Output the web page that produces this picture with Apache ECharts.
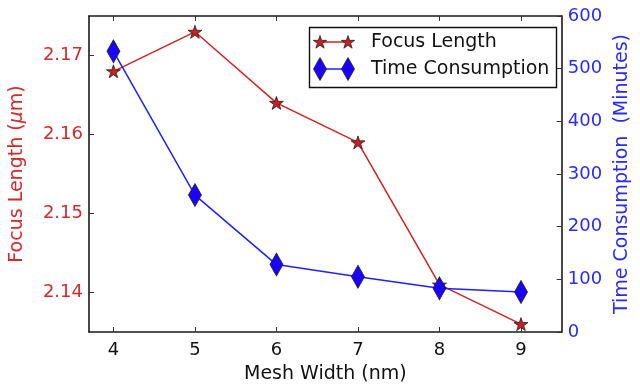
<!DOCTYPE html>
<html><head><meta charset="utf-8">
<script src="https://cdn.jsdelivr.net/npm/echarts@6/dist/echarts.min.js"></script>
<style>html,body{margin:0;padding:0;background:#fff}#c{width:640px;height:389px}</style>
</head><body><div id="c"></div>
<script>
const meshWidth = [4, 5, 6, 7, 8, 9];
const focusLength = [2.168, 2.173, 2.164, 2.159, 2.141, 2.136];
const timeConsumption = [533, 260, 128, 105, 83, 76];
const xTicks = [4, 5, 6, 7, 8, 9];
const leftTicks = [2.14, 2.15, 2.16, 2.17];
const rightTicks = [0, 100, 200, 300, 400, 500, 600];
const seriesNames = ['Focus Length', 'Time Consumption'];

const FONT = 'DejaVu Sans';
const RED = '#d42222', RED_FILL = '#cc1e1e', RED_TEXT = '#d42a2a';
const BLUE = '#2020ff', BLUE_FILL = '#1a00ff', BLUE_TEXT = '#2a2aff';
const STAR = 'M100,0 L77.55,69.1 L4.89,69.1 L63.67,111.8 L41.22,180.9 L100,138.2 L158.78,180.9 L136.33,111.8 L195.11,69.1 L122.45,69.1 Z';
const spine = {show: true, lineStyle: {color: '#1a1a1a', width: 1.6}};
const tick = {show: true, inside: true, length: 5, lineStyle: {color: '#333', width: 1}};

const chart = echarts.init(document.getElementById('c'), null, {renderer: 'canvas'});

function legendStar(cx, cy) {
  const pts = [];
  for (let k = 0; k < 10; k++) {
    const a = Math.PI / 2 + k * Math.PI / 5;
    const r = (k % 2 === 0) ? 7 : 7 * 0.382;
    pts.push([cx + r * Math.cos(a), cy - r * Math.sin(a) + 0.5]);
  }
  return {type: 'polygon', shape: {points: pts},
    style: {fill: RED_FILL, stroke: '#222', lineWidth: 0.8}, z: 101};
}
function legendDiamond(cx, cy) {
  return {type: 'polygon', shape: {points: [[cx, cy - 11.5], [cx + 6.5, cy], [cx, cy + 11.5], [cx - 6.5, cy]]},
    style: {fill: BLUE_FILL, stroke: '#222', lineWidth: 0.8}, z: 101};
}

chart.setOption({
  animation: false,
  backgroundColor: '#fff',
  grid: {left: 87, right: 77, top: 16, bottom: 55, containLabel: false},
  xAxis: [{
    type: 'value', min: 3.7, max: 9.5, position: 'bottom',
    name: 'Mesh Width (nm)', nameLocation: 'middle', nameGap: 33,
    nameTextStyle: {fontFamily: FONT, fontSize: 19, color: '#111'},
    axisLine: spine, axisTick: Object.assign({}, tick, {customValues: xTicks}),
    axisLabel: {customValues: xTicks, fontFamily: FONT, fontSize: 18, color: '#111', margin: 9},
    splitLine: {show: false}
  }, {
    type: 'value', min: 3.7, max: 9.5, position: 'top',
    axisLine: spine, axisTick: Object.assign({}, tick, {customValues: xTicks}),
    axisLabel: {show: false, customValues: xTicks}, splitLine: {show: false}
  }],
  yAxis: [{
    type: 'value', min: 2.135, max: 2.175, position: 'left',
    name: 'Focus Length ({i|μ}m)', nameLocation: 'middle', nameGap: 62, nameRotate: 90,
    nameTextStyle: {fontFamily: FONT, fontSize: 19, color: RED_TEXT,
      rich: {i: {fontFamily: FONT, fontSize: 19, fontStyle: 'italic', color: RED_TEXT}}},
    axisLine: spine, axisTick: Object.assign({}, tick, {customValues: leftTicks}),
    axisLabel: {customValues: leftTicks, fontFamily: FONT, fontSize: 18, color: RED_TEXT, margin: 6,
      formatter: v => v.toFixed(2)},
    splitLine: {show: false}
  }, {
    type: 'value', min: 0, max: 600, position: 'right',
    name: 'Time Consumption  (Minutes)', nameLocation: 'middle', nameGap: 50, nameRotate: 90,
    nameTextStyle: {fontFamily: FONT, fontSize: 19, color: BLUE_TEXT},
    axisLine: spine, axisTick: Object.assign({}, tick, {customValues: rightTicks}),
    axisLabel: {customValues: rightTicks, fontFamily: FONT, fontSize: 18, color: BLUE_TEXT, margin: 6},
    splitLine: {show: false}
  }],
  series: [{
    name: seriesNames[0], type: 'line', xAxisIndex: 0, yAxisIndex: 0,
    data: meshWidth.map((x, i) => [x, focusLength[i]]),
    symbol: 'path://' + STAR, symbolSize: [14, 13],
    lineStyle: {color: RED, width: 1.5},
    itemStyle: {color: RED_FILL, borderColor: '#222', borderWidth: 0.8},
    z: 2
  }, {
    name: seriesNames[1], type: 'line', xAxisIndex: 0, yAxisIndex: 1,
    data: meshWidth.map((x, i) => [x, timeConsumption[i]]),
    symbol: 'diamond', symbolSize: [13, 23],
    lineStyle: {color: BLUE, width: 1.5},
    itemStyle: {color: BLUE_FILL, borderColor: '#222', borderWidth: 0.8},
    z: 3
  }],
  graphic: [
    {type: 'rect', shape: {x: 309.5, y: 27.5, width: 247, height: 60},
      style: {fill: '#fff', stroke: '#111', lineWidth: 1.4}, z: 100},
    {type: 'line', shape: {x1: 320, y1: 42, x2: 348, y2: 42}, style: {stroke: RED, lineWidth: 1.5}, z: 100},
    legendStar(320, 42), legendStar(348, 42),
    {type: 'text', x: 371, y: 42, style: {text: seriesNames[0], font: '19px "DejaVu Sans"', fill: '#111',
      verticalAlign: 'middle'}, z: 101},
    {type: 'line', shape: {x1: 320, y1: 69, x2: 348, y2: 69}, style: {stroke: BLUE, lineWidth: 1.5}, z: 100},
    legendDiamond(320, 69), legendDiamond(348, 69),
    {type: 'text', x: 371, y: 69, style: {text: seriesNames[1], font: '19px "DejaVu Sans"', fill: '#111',
      verticalAlign: 'middle'}, z: 101}
  ]
});
</script></body></html>
